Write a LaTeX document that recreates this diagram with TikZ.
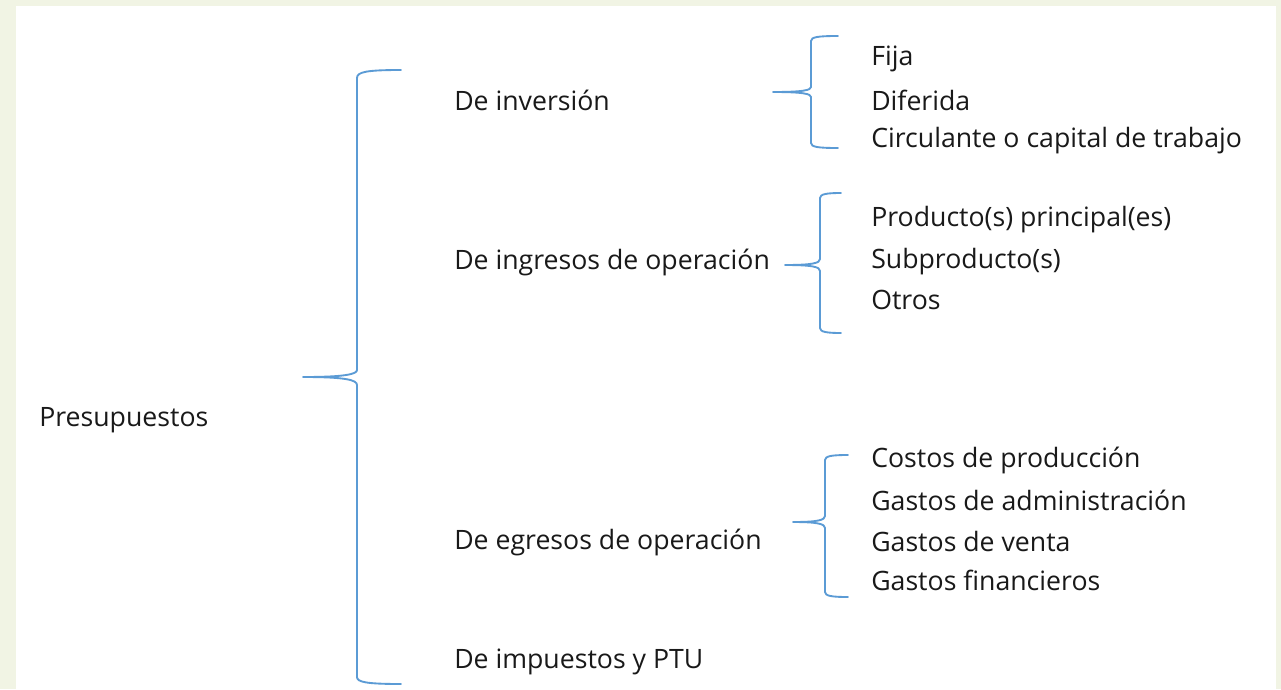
\documentclass[tikz,border=0pt]{standalone}
\usepackage{fontspec}
\setmainfont{Open Sans}
\definecolor{bracecol}{RGB}{91,155,213}
\definecolor{textcol}{RGB}{25,25,25}
\definecolor{framecol}{RGB}{241,244,228}

\begin{document}
\begin{tikzpicture}[x=0.75pt,y=0.75pt,yscale=-1,xscale=1,
  every node/.style={font=\fontsize{20}{24}\selectfont,text=textcol},
  brace/.style={draw=bracecol,line width=1.4pt,line join=round,line cap=round}]
%set diagram size to 1281 x 689
\useasboundingbox (0,0) rectangle (1281,689);
\fill [framecol] (0,0) rectangle (1281,689);
\fill [white] (16,6) rectangle (1276,689);

%Shape: Brace [id:main] 
\draw [brace] (401,70) .. controls (366,70) and (357,72) .. (357,78) -- (357,370) .. controls (357,374) and (346,377) .. (303,377) .. controls (346,377) and (357,380) .. (357,385) -- (357,677) .. controls (357,682) and (366,684) .. (401,684) ;
%Shape: Brace [id:inversion] 
\draw [brace] (838,36) .. controls (818,36) and (811,37) .. (811,41) -- (811,87) .. controls (811,90) and (804,92) .. (773,92) .. controls (804,92) and (811,94) .. (811,97) -- (811,143) .. controls (811,147) and (818,148) .. (838,148) ;
%Shape: Brace [id:ingresos] 
\draw [brace] (841,193) .. controls (827,193) and (820,194) .. (820,198) -- (820,259) .. controls (820,263) and (813,265) .. (785,265) .. controls (813,265) and (820,267) .. (820,271) -- (820,328) .. controls (820,332) and (827,333) .. (841,333) ;
%Shape: Brace [id:egresos] 
\draw [brace] (848,455) .. controls (832,455) and (825,456) .. (825,460) -- (825,516) .. controls (825,520) and (818,522) .. (793,522) .. controls (818,522) and (825,524) .. (825,528) -- (825,592) .. controls (825,596) and (832,597) .. (848,597) ;

% Text Node
\draw (38,420) node (presup) [anchor=west][inner sep=0.75pt] [align=left] {Presupuestos};
% Text Node
\draw (453,100) node (inver) [anchor=west][inner sep=0.75pt] [align=left] {De inversión};
% Text Node
\draw (453,262) node (ingre) [anchor=west][inner sep=0.75pt] [align=left] {De ingresos de operación};
% Text Node
\draw (453,542) node (egre) [anchor=west][inner sep=0.75pt] [align=left] {De egresos de operación};
% Text Node
\draw (453,662) node (impue) [anchor=west][inner sep=0.75pt] [align=left] {De impuestos y PTU};
% Text Node
\draw (870,59) node (fija) [anchor=west][inner sep=0.75pt] [align=left] {Fija};
% Text Node
\draw (870,100) node (difer) [anchor=west][inner sep=0.75pt] [align=left] {Diferida};
% Text Node
\draw (870,141) node (circu) [anchor=west][inner sep=0.75pt] [align=left] {Circulante o capital de trabajo};
% Text Node
\draw (870,220) node (prodp) [anchor=west][inner sep=0.75pt] [align=left] {Producto(s) principal(es)};
% Text Node
\draw (870,262) node (subp) [anchor=west][inner sep=0.75pt] [align=left] {Subproducto(s)};
% Text Node
\draw (870,300) node (otros) [anchor=west][inner sep=0.75pt] [align=left] {Otros};
% Text Node
\draw (870,460) node (costp) [anchor=west][inner sep=0.75pt] [align=left] {Costos de producción};
% Text Node
\draw (870,500) node (gadm) [anchor=west][inner sep=0.75pt] [align=left] {Gastos de administración};
% Text Node
\draw (870,541) node (gven) [anchor=west][inner sep=0.75pt] [align=left] {Gastos de venta};
% Text Node
\draw (870,580) node (gfin) [anchor=west][inner sep=0.75pt] [align=left] {Gastos financieros};

\end{tikzpicture}
\end{document}
